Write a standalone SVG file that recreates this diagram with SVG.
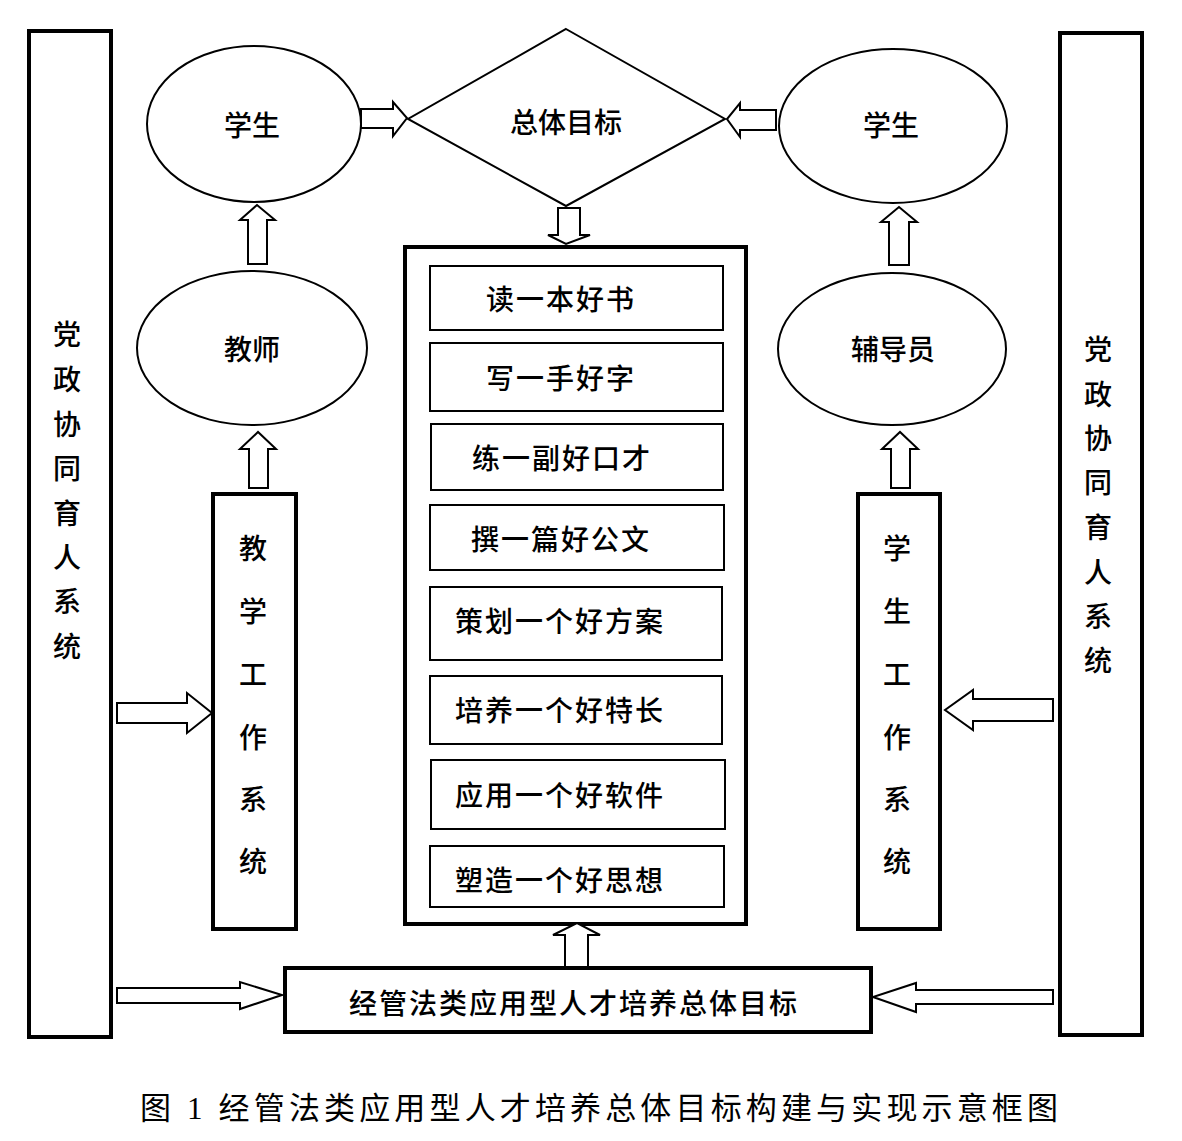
<svg xmlns="http://www.w3.org/2000/svg" width="1182" height="1141" viewBox="0 0 1182 1141">
<style>
.thick{fill:#fff;stroke:#000;stroke-width:4}
.thin{fill:#fff;stroke:#000;stroke-width:2}
.ell{fill:#fff;stroke:#000;stroke-width:2}
.arr{fill:#fff;stroke:#000;stroke-width:2;stroke-linejoin:miter}
.t{font-family:"Noto Sans CJK SC","Noto Sans",sans-serif;font-size:28px;font-weight:500;fill:#000;text-anchor:middle;dominant-baseline:central}
.cap{font-family:"Liberation Serif","Noto Sans CJK SC",serif;font-size:31px;fill:#000}
</style>
<rect width="1182" height="1141" fill="#fff"/>

<g id="left-system">
<rect class="thick" x="29" y="31" width="82" height="1006"/>
<text class="t" x="67" y="333">党</text><text class="t" x="67" y="378">政</text><text class="t" x="67" y="423">协</text><text class="t" x="67" y="467">同</text><text class="t" x="67" y="512">育</text><text class="t" x="67" y="556">人</text><text class="t" x="67" y="600">系</text><text class="t" x="67" y="645">统</text>
</g>
<g id="right-system">
<rect class="thick" x="1060" y="33" width="82" height="1002"/>
<text class="t" x="1098" y="348">党</text><text class="t" x="1098" y="393">政</text><text class="t" x="1098" y="437">协</text><text class="t" x="1098" y="481">同</text><text class="t" x="1098" y="526">育</text><text class="t" x="1098" y="571">人</text><text class="t" x="1098" y="615">系</text><text class="t" x="1098" y="659">统</text>
</g>

<g id="student-left">
<ellipse class="ell" cx="254" cy="124" rx="107" ry="78"/>
<text class="t" x="252" y="124">学生</text>
</g>
<g id="student-right">
<ellipse class="ell" cx="893" cy="126" rx="114" ry="77"/>
<text class="t" x="891" y="124">学生</text>
</g>
<g id="teacher">
<ellipse class="ell" cx="252" cy="348" rx="115" ry="77"/>
<text class="t" x="252" y="348">教师</text>
</g>
<g id="counselor">
<ellipse class="ell" cx="892" cy="349" rx="114" ry="76"/>
<text class="t" x="893" y="348">辅导员</text>
</g>
<g id="goal">
<polygon class="thin" points="566,29 725,119 566,206 408,119"/>
<text class="t" x="566" y="121">总体目标</text>
</g>

<g id="teaching-system">
<rect class="thick" x="213" y="494" width="83" height="435"/>
<text class="t" x="253" y="547">教</text><text class="t" x="253" y="610">学</text><text class="t" x="253" y="673">工</text><text class="t" x="253" y="736">作</text><text class="t" x="253" y="798">系</text><text class="t" x="253" y="860">统</text>
</g>
<g id="student-system">
<rect class="thick" x="858" y="494" width="82" height="435"/>
<text class="t" x="897" y="547">学</text><text class="t" x="897" y="610">生</text><text class="t" x="897" y="673">工</text><text class="t" x="897" y="736">作</text><text class="t" x="897" y="798">系</text><text class="t" x="897" y="860">统</text>
</g>

<g id="center-box">
<rect class="thick" x="405" y="247" width="341" height="677"/>
</g>
<g id="item1"><rect class="thin" x="430" y="266" width="293" height="64"/><text class="t" x="561" y="298" letter-spacing="2">读一本好书</text></g>
<g id="item2"><rect class="thin" x="430" y="343" width="293" height="68"/><text class="t" x="561" y="377" letter-spacing="2">写一手好字</text></g>
<g id="item3"><rect class="thin" x="431" y="424" width="292" height="66"/><text class="t" x="562" y="457" letter-spacing="2">练一副好口才</text></g>
<g id="item4"><rect class="thin" x="430" y="505" width="294" height="65"/><text class="t" x="561" y="538" letter-spacing="2">撰一篇好公文</text></g>
<g id="item5"><rect class="thin" x="430" y="587" width="292" height="73"/><text class="t" x="560" y="620" letter-spacing="2">策划一个好方案</text></g>
<g id="item6"><rect class="thin" x="430" y="676" width="292" height="68"/><text class="t" x="560" y="709" letter-spacing="2">培养一个好特长</text></g>
<g id="item7"><rect class="thin" x="431" y="760" width="294" height="69"/><text class="t" x="560" y="794" letter-spacing="2">应用一个好软件</text></g>
<g id="item8"><rect class="thin" x="430" y="846" width="294" height="61"/><text class="t" x="560" y="879" letter-spacing="2">塑造一个好思想</text></g>

<g id="overall-goal">
<rect class="thick" x="285" y="968" width="586" height="64"/>
<text class="t" x="574" y="1002" letter-spacing="2">经管法类应用型人才培养总体目标</text>
</g>

<g id="connectors">
<polygon class="arr" points="361,109 393,109 393,102 407,118 393,136 393,128 361,128"/>
<polygon class="arr" points="776,110 740,110 740,103 727,119 740,137 740,130 776,130"/>
<polygon class="arr" points="558,208 580,208 580,235 590,235 566,244 548,235 558,235"/>
<polygon class="arr" points="248,264 267,264 267,220 275,220 257,205 240,220 248,220"/>
<polygon class="arr" points="889,265 909,265 909,222 917,222 899,207 881,222 889,222"/>
<polygon class="arr" points="249,488 268,488 268,449 276,449 258,432 240,449 249,449"/>
<polygon class="arr" points="891,488 910,488 910,449 918,449 900,432 882,449 891,449"/>
<polygon class="arr" points="117,703 187,703 187,693 212,713 187,733 187,723 117,723"/>
<polygon class="arr" points="1053,699 973,699 973,690 945,710 973,730 973,721 1053,721"/>
<polygon class="arr" points="117,988 240,988 240,982 282,995 240,1009 240,1003 117,1003"/>
<polygon class="arr" points="1053,990 916,990 916,983 873,997 916,1012 916,1004 1053,1004"/>
<polygon class="arr" points="565,967 588,967 588,935 600,935 577,923 553,935 565,935"/>
</g>

<text class="cap" x="140" y="1119" textLength="918" lengthAdjust="spacing">图 1  经管法类应用型人才培养总体目标构建与实现示意框图</text>
</svg>
